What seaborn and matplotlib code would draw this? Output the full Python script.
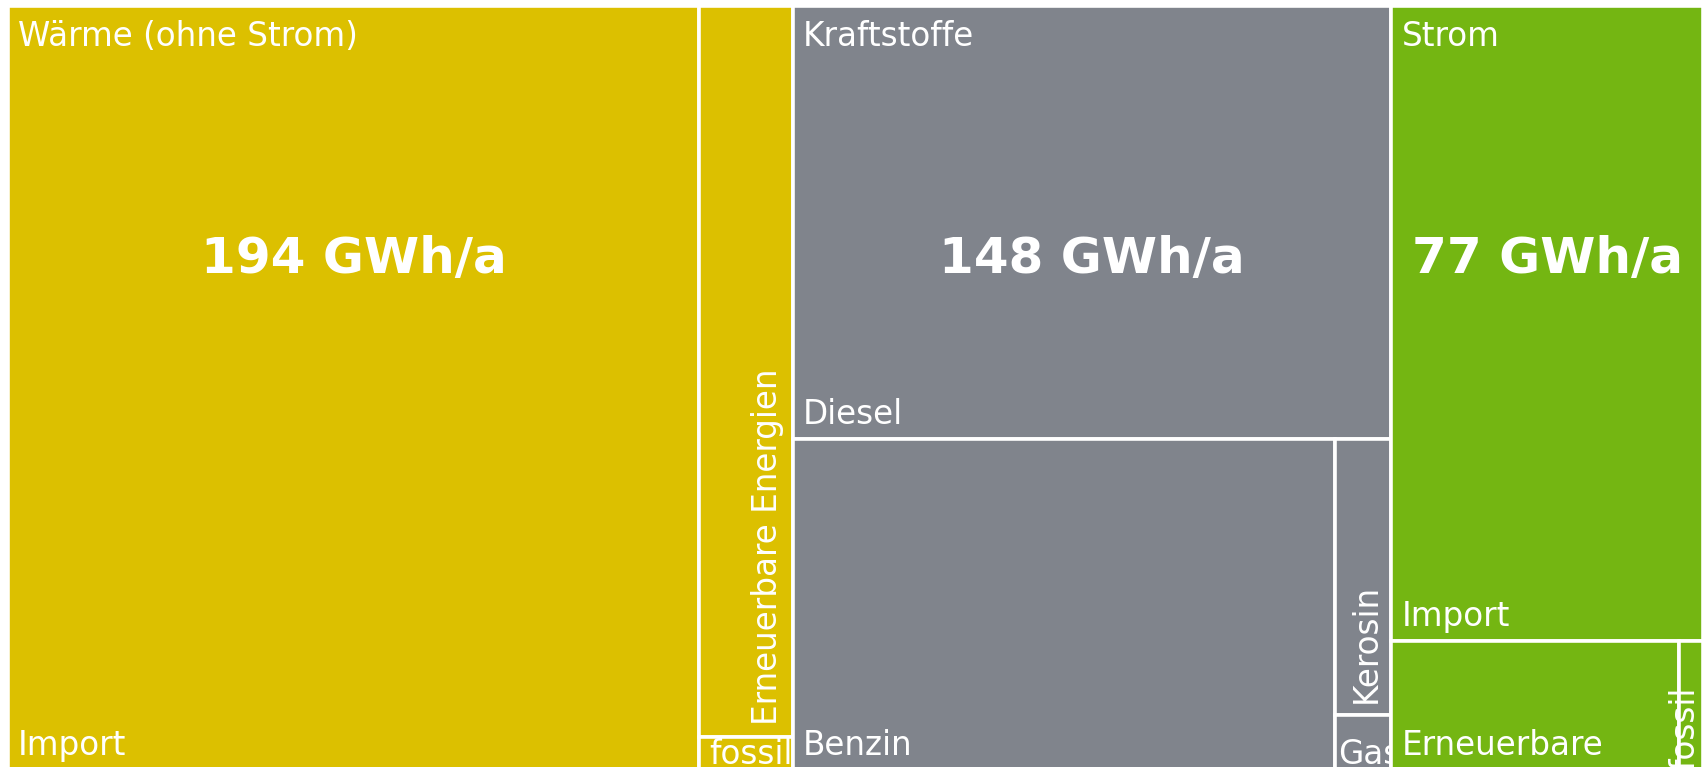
import matplotlib
matplotlib.use("Agg")
import matplotlib.pyplot as plt
from matplotlib.patches import Rectangle
import seaborn as sns

# Endenergie nach Sektor und Herkunft (GWh/a)
groups = ["Wärme (ohne Strom)", "Kraftstoffe", "Strom"]
group_totals = [194, 148, 77]

waerme_parts = ["Import", "Erneuerbare Energien", "fossil"]
waerme_values = [171, 22, 1]

kraft_parts = ["Diesel", "Benzin", "Kerosin", "Gas"]
kraft_values = [84, 58, 5, 1]

strom_parts = ["Import", "Erneuerbare", "fossil"]
strom_values = [64, 12, 1]

unit = "GWh/a"


def worst(row, side):
    s = sum(row)
    return max(max(side ** 2 * r / s ** 2, s ** 2 / (side ** 2 * r)) for r in row)


def layout_row(row, x, y, w, h):
    s = sum(row)
    rects = []
    if w >= h:
        cw = s / h
        yy = y
        for r in row:
            rh = r / cw
            rects.append((x, yy, cw, rh))
            yy += rh
        return rects, (x + cw, y, w - cw, h)
    rh = s / w
    xx = x
    for r in row:
        rw = r / rh
        rects.append((xx, y, rw, rh))
        xx += rw
    return rects, (x, y + rh, w, h - rh)


def squarify(values, x, y, w, h):
    # squarified treemap (Bruls et al.), values already sorted descending
    total = sum(values)
    areas = [v / total * w * h for v in values]
    rects = []
    while areas:
        side = min(w, h)
        row = [areas.pop(0)]
        while areas and worst(row + [areas[0]], side) <= worst(row, side):
            row.append(areas.pop(0))
        r, (x, y, w, h) = layout_row(row, x, y, w, h)
        rects += r
    return rects


def main():
    sns.set_theme(style="white")
    plt.rcParams["font.family"] = ["DejaVu Sans"]

    W, H = 1695.5, 764.5
    fig = plt.figure(figsize=(17.05, 7.67), dpi=100)
    ax = fig.add_axes([7.5 / 1705, (767 - 5.5 - H) / 767, W / 1705, H / 767])
    ax.set_xlim(0, W)
    ax.set_ylim(H, 0)
    ax.axis("off")

    colors = ["#DCC000", "#80848C", "#74B612"]
    children = [(waerme_parts, waerme_values), (kraft_parts, kraft_values),
                (strom_parts, strom_values)]

    z = 2
    label_size = 23.5
    for (gx, gy, gw, gh), name, total, color, (parts, vals) in zip(
            squarify(group_totals, 0, 0, W, H), groups, group_totals, colors, children):
        tiles = squarify(vals, gx, gy, gw, gh)
        for (x, y, w, h), part in zip(tiles, parts):
            ax.add_patch(Rectangle((x, y), w, h, facecolor=color, edgecolor="white",
                                   linewidth=2.6, zorder=z))
            # rotate the label when it would not fit across a tall, narrow tile
            if len(part) * 14 > w and h > w:
                pad = 16 if w > 40 else 9
                start = 12 if w > 40 else 0
                ax.text(x + w - pad, y + h - start, part, rotation=90, rotation_mode="anchor",
                        ha="left", va="baseline", color="white", fontsize=label_size, zorder=z + 1)
            else:
                off = 15 if h > 60 else 6
                left = 10 if w > 60 else 3
                ax.text(x + left, y + h - off, part, ha="left", va="baseline",
                        color="white", fontsize=label_size, zorder=z + 1)
            z += 2
        ax.text(gx + 10, gy + 41, name, ha="left", va="baseline", color="white",
                fontsize=label_size, zorder=z + 1)
        x0, y0, w0, h0 = tiles[0]
        ax.text(x0 + w0 / 2, H * 0.332, f"{total} {unit}", ha="center", va="center",
                color="white", fontsize=36, fontweight="bold", zorder=z + 1)
        z += 2

    fig.savefig("out.png", dpi=100)


if __name__ == "__main__":
    main()
